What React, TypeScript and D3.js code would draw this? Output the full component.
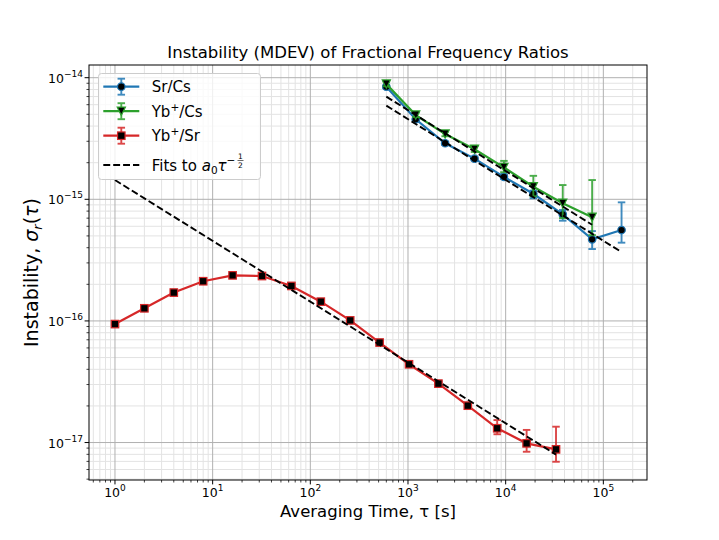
import React from "react";
import * as d3 from "d3";

// Sr/Cs
const tauSrCs = [600, 1200, 2400, 4800, 9600, 19200, 38400, 76800, 153600];
const srCs = [8.43e-15, 4.55e-15, 2.89e-15, 2.16e-15, 1.53e-15, 1.11e-15, 7.52e-16, 4.69e-16, 5.59e-16];
const srCsLo = [8.2e-15, 4.42e-15, 2.8e-15, 2.09e-15, 1.47e-15, 1.02e-15, 6.67e-16, 3.9e-16, 4.4e-16];
const srCsHi = [8.7e-15, 4.7e-15, 2.98e-15, 2.24e-15, 1.6e-15, 1.18e-15, 8.17e-16, 5.48e-16, 9.44e-16];

// Yb+/Cs
const tauYbCs = [600, 1200, 2400, 4800, 9600, 19200, 38400, 76800];
const ybCs = [8.87e-15, 4.93e-15, 3.44e-15, 2.58e-15, 1.83e-15, 1.27e-15, 9.27e-16, 7.11e-16];
const ybCsLo = [8.5e-15, 4.75e-15, 3.3e-15, 2.45e-15, 1.67e-15, 1.06e-15, 7.0e-16, 5.08e-16];
const ybCsHi = [9.3e-15, 5.15e-15, 3.62e-15, 2.75e-15, 2.07e-15, 1.56e-15, 1.31e-15, 1.44e-15];

// Yb+/Sr
const tauYbSr = [1, 2, 4, 8, 16, 32, 64, 128, 256, 512, 1024, 2048, 4096, 8192, 16384, 32768];
const ybSr = [9.42e-17, 1.27e-16, 1.71e-16, 2.12e-16, 2.37e-16, 2.34e-16, 1.94e-16, 1.44e-16, 1.01e-16, 6.64e-17, 4.4e-17, 3.05e-17, 2.01e-17, 1.31e-17, 9.85e-18, 8.79e-18];
const ybSrLo = [9.3e-17, 1.25e-16, 1.69e-16, 2.1e-16, 2.34e-16, 2.31e-16, 1.91e-16, 1.41e-16, 9.9e-17, 6.5e-17, 4.3e-17, 2.95e-17, 1.9e-17, 1.17e-17, 8.4e-18, 6.95e-18];
const ybSrHi = [9.55e-17, 1.29e-16, 1.73e-16, 2.14e-16, 2.4e-16, 2.37e-16, 1.97e-16, 1.47e-16, 1.03e-16, 6.8e-17, 4.5e-17, 3.15e-17, 2.12e-17, 1.53e-17, 1.27e-17, 1.35e-17];

// fits a0 * tau^-1/2
const fitA0 = [1.443e-13, 1.71e-13, 1.44e-15];
const fitRange = [
  [600, 153600],
  [600, 76800],
  [1, 32768],
];

const xTicks = [0, 1, 2, 3, 4, 5];
const yTicks = [-17, -16, -15, -14];

const W = 719;
const H = 540;
const left = 89;
const right = 647;
const top = 65;
const bottom = 480;
const font = "DejaVu Sans, sans-serif";

const x = d3.scaleLog().domain([Math.pow(10, -0.266), Math.pow(10, 5.447)]).range([left, right]);
const y = d3.scaleLog().domain([Math.pow(10, -17.308), Math.pow(10, -13.8956)]).range([bottom, top]);

const minorX: number[] = [];
for (let e = -1; e <= 5; e++) for (let m = 2; m <= 9; m++) {
  const v = m * Math.pow(10, e);
  if (v > x.domain()[0] && v < x.domain()[1]) minorX.push(v);
}
const minorY: number[] = [];
for (let e = -18; e <= -14; e++) for (let m = 2; m <= 9; m++) {
  const v = m * Math.pow(10, e);
  if (v > y.domain()[0] && v < y.domain()[1]) minorY.push(v);
}

const line = d3
  .line<[number, number]>()
  .x((d) => x(d[0]))
  .y((d) => y(d[1]));

type Series = {
  taus: number[];
  vals: number[];
  lo: number[];
  hi: number[];
  color: string;
  marker: "circle" | "tri" | "square";
};

const series: Series[] = [
  { taus: tauSrCs, vals: srCs, lo: srCsLo, hi: srCsHi, color: "#1f77b4", marker: "circle" },
  { taus: tauYbCs, vals: ybCs, lo: ybCsLo, hi: ybCsHi, color: "#2ca02c", marker: "tri" },
  { taus: tauYbSr, vals: ybSr, lo: ybSrLo, hi: ybSrHi, color: "#d62728", marker: "square" },
];

function Marker({ cx, cy, kind, color }: { cx: number; cy: number; kind: string; color: string }) {
  const s = 7.5;
  if (kind === "circle") return <circle cx={cx} cy={cy} r={s / 2} fill="#000" stroke={color} strokeWidth={1.2} />;
  if (kind === "square")
    return <rect x={cx - s / 2} y={cy - s / 2} width={s} height={s} fill="#000" stroke={color} strokeWidth={1.2} />;
  const h = s * 0.55;
  return (
    <path
      d={`M${cx - h},${cy - h} L${cx + h},${cy - h} L${cx},${cy + h} Z`}
      fill="#000"
      stroke={color}
      strokeWidth={1.2}
    />
  );
}

function ErrBar({ cx, y1, y2, color }: { cx: number; y1: number; y2: number; color: string }) {
  const c = 3.75;
  return (
    <g stroke={color} strokeWidth={1.9} opacity={0.85}>
      <line x1={cx} x2={cx} y1={y1} y2={y2} />
      <line x1={cx - c} x2={cx + c} y1={y1} y2={y1} />
      <line x1={cx - c} x2={cx + c} y1={y2} y2={y2} />
    </g>
  );
}

function Sup({ base, exp }: { base: string; exp: string }) {
  return (
    <>
      <tspan>{base}</tspan>
      <tspan dy={-6} fontSize={9}>
        {exp}
      </tspan>
    </>
  );
}

export default function App() {
  const legendItems = [
    { label: ["Sr/Cs", ""], color: "#1f77b4", marker: "circle" },
    { label: ["Yb", "/Cs"], color: "#2ca02c", marker: "tri" },
    { label: ["Yb", "/Sr"], color: "#d62728", marker: "square" },
  ];
  const lx = 98.5;
  const ly = 73.5;
  return (
    <svg width={W} height={H} style={{ position: "absolute", left: 0, top: 0, background: "#fff" }} fontFamily={font}>
      <defs>
        <clipPath id="plot">
          <rect x={left} y={top} width={right - left} height={bottom - top} />
        </clipPath>
      </defs>
      {/* grid */}
      <g stroke="#e3e3e3" strokeWidth={1}>
        {minorX.map((v, i) => (
          <line key={"mx" + i} x1={x(v)} x2={x(v)} y1={top} y2={bottom} />
        ))}
        {minorY.map((v, i) => (
          <line key={"my" + i} x1={left} x2={right} y1={y(v)} y2={y(v)} />
        ))}
      </g>
      <g stroke="#b0b0b0" strokeWidth={1}>
        {xTicks.map((e) => (
          <line key={"gx" + e} x1={x(Math.pow(10, e))} x2={x(Math.pow(10, e))} y1={top} y2={bottom} />
        ))}
        {yTicks.map((e) => (
          <line key={"gy" + e} x1={left} x2={right} y1={y(Math.pow(10, e))} y2={y(Math.pow(10, e))} />
        ))}
      </g>

      <g clipPath="url(#plot)">
        {series.map((s, si) => (
          <g key={si}>
            <path
              d={line(s.taus.map((t, i) => [t, s.vals[i]] as [number, number])) || ""}
              fill="none"
              stroke={s.color}
              strokeWidth={2.2}
            />
            {s.taus.map((t, i) => (
              <ErrBar key={"e" + i} cx={x(t)} y1={y(s.hi[i])} y2={y(s.lo[i])} color={s.color} />
            ))}
            {s.taus.map((t, i) => (
              <Marker key={"m" + i} cx={x(t)} cy={y(s.vals[i])} kind={s.marker} color={s.color} />
            ))}
          </g>
        ))}
        {fitA0.map((a, i) => {
          const [t0, t1] = fitRange[i];
          return (
            <line
              key={"f" + i}
              x1={x(t0)}
              y1={y(a / Math.sqrt(t0))}
              x2={x(t1)}
              y2={y(a / Math.sqrt(t1))}
              stroke="#000"
              strokeWidth={1.9}
              strokeDasharray="6.9,3"
            />
          );
        })}
      </g>

      {/* spines */}
      <rect x={left} y={top} width={right - left} height={bottom - top} fill="none" stroke="#000" strokeWidth={1} />

      {/* ticks */}
      <g stroke="#000" strokeWidth={1}>
        {xTicks.map((e) => (
          <line key={"tx" + e} x1={x(Math.pow(10, e))} x2={x(Math.pow(10, e))} y1={bottom} y2={bottom + 4.4} />
        ))}
        {minorX.map((v, i) => (
          <line key={"tmx" + i} x1={x(v)} x2={x(v)} y1={bottom} y2={bottom + 2.5} strokeWidth={0.75} />
        ))}
        {yTicks.map((e) => (
          <line key={"ty" + e} x1={left - 4.4} x2={left} y1={y(Math.pow(10, e))} y2={y(Math.pow(10, e))} />
        ))}
        {minorY.map((v, i) => (
          <line key={"tmy" + i} x1={left - 2.5} x2={left} y1={y(v)} y2={y(v)} strokeWidth={0.75} />
        ))}
      </g>
      <g fontSize={12.5} fill="#000">
        {xTicks.map((e) => (
          <text key={"lx" + e} x={x(Math.pow(10, e))} y={497} textAnchor="middle">
            <Sup base="10" exp={String(e)} />
          </text>
        ))}
        {yTicks.map((e) => (
          <text key={"ly" + e} x={83} y={y(Math.pow(10, e)) + 5} textAnchor="end">
            <Sup base="10" exp={"\u2212" + String(-e)} />
          </text>
        ))}
      </g>

      {/* labels */}
      <text x={(left + right) / 2} y={58} textAnchor="middle" fontSize={16.5}>
        Instability (MDEV) of Fractional Frequency Ratios
      </text>
      <text x={(left + right) / 2} y={517} textAnchor="middle" fontSize={16.5}>
        Averaging Time, τ [s]
      </text>
      <text transform={`translate(38,${(top + bottom) / 2}) rotate(-90)`} textAnchor="middle" fontSize={19}>
        Instability, <tspan fontStyle="italic">σ</tspan>
        <tspan fontStyle="italic" fontSize={13} dy={4}>
          r
        </tspan>
        <tspan dy={-4}>(</tspan>
        <tspan fontStyle="italic">τ</tspan>)
      </text>

      {/* legend */}
      <rect x={lx} y={ly} width={162} height={106} rx={3} fill="#fff" fillOpacity={0.8} stroke="#cccccc" strokeWidth={1} />
      {legendItems.map((it, i) => {
        const cy = 86.7 + i * 24.5;
        return (
          <g key={"lg" + i}>
            <line x1={103.3} x2={139.3} y1={cy} y2={cy} stroke={it.color} strokeWidth={2.2} />
            <ErrBar cx={121.3} y1={cy - 8} y2={cy + 8} color={it.color} />
            <Marker cx={121.3} cy={cy} kind={it.marker} color={it.color} />
            <text x={151.7} y={cy + 5.5} fontSize={15}>
              {it.label[1] === "" ? (
                it.label[0]
              ) : (
                <>
                  {it.label[0]}
                  <tspan dy={-6} fontSize={10.5}>
                    +
                  </tspan>
                  <tspan dy={6}>{it.label[1]}</tspan>
                </>
              )}
            </text>
          </g>
        );
      })}
      <line x1={103.3} x2={139.3} y1={165} y2={165} stroke="#000" strokeWidth={1.9} strokeDasharray="6.9,3" />
      <text x={151.7} y={170.5} fontSize={15}>
        Fits to <tspan fontStyle="italic">a</tspan>
        <tspan fontSize={10.5} dy={3}>
          0
        </tspan>
        <tspan fontStyle="italic" dy={-3}>
          τ
        </tspan>
        <tspan fontSize={10.5} dy={-7}>
          −
        </tspan>
      </text>
      <text x={240.5} y={159} fontSize={7.5} textAnchor="middle">
        1
      </text>
      <line x1={237.5} x2={243.5} y1={160.5} y2={160.5} stroke="#000" strokeWidth={0.6} />
      <text x={240.5} y={167.5} fontSize={7.5} textAnchor="middle">
        2
      </text>
    </svg>
  );
}
